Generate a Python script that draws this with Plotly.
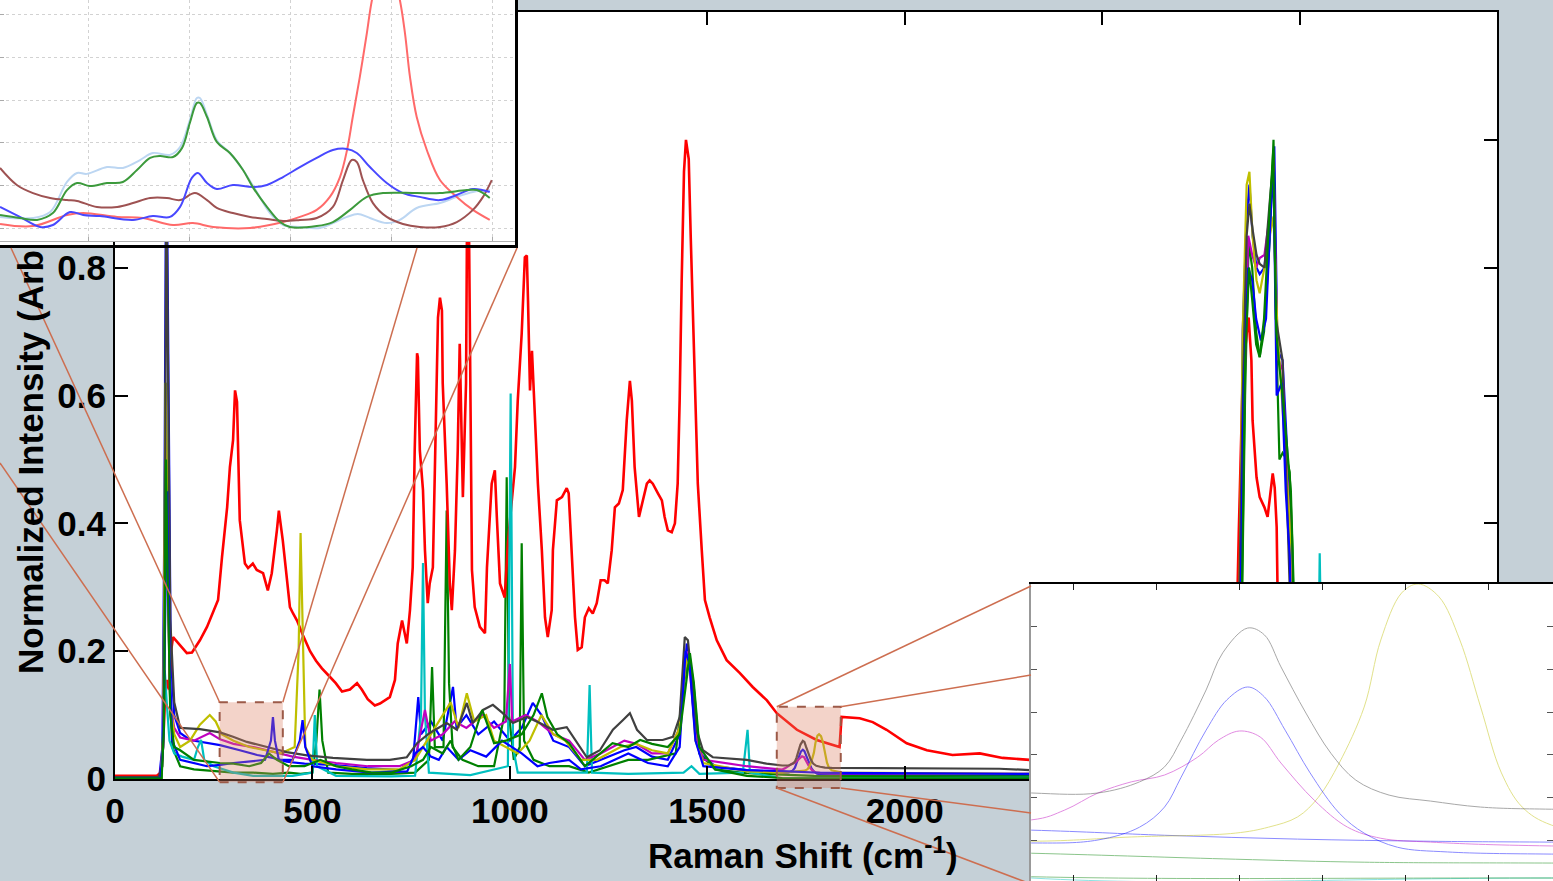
import plotly.graph_objects as go

# ---------------- main spectra (Raman shift cm-1, normalized intensity) ----------------
red = [(0,0.005),(106,0.005),(116,0.01),(122,0.06),(127,0.13),(132,0.155),(137,0.14),(142,0.2),(147,0.222),(170,0.206),(182,0.197),(195,0.198),(215,0.217),(233,0.238),(248,0.259),(261,0.28),(271,0.347),(284,0.425),(291,0.488),(299,0.53),(304,0.608),(309,0.59),(316,0.405),(329,0.337),(337,0.33),(349,0.337),(359,0.327),(375,0.322),(387,0.295),(397,0.322),(410,0.389),(415,0.42),(425,0.373),(435,0.311),(443,0.269),(451,0.259),(461,0.248),(476,0.225),(494,0.2),(509,0.185),(524,0.173),(544,0.16),(559,0.15),(575,0.137),(595,0.14),(613,0.15),(625,0.14),(640,0.125),(658,0.115),(671,0.118),(696,0.128),(709,0.155),(716,0.212),(727,0.248),(739,0.212),(747,0.264),(754,0.331),(759,0.514),(765,0.666),(767,0.66),(772,0.514),(780,0.452),(785,0.358),(792,0.275),(797,0.306),(805,0.331),(810,0.462),(818,0.722),(823,0.753),(828,0.733),(830,0.619),(840,0.462),(848,0.306),(853,0.264),(861,0.358),(868,0.514),(873,0.681),(878,0.514),(881,0.441),(889,0.619),(892,0.92),(896,0.9),(901,0.5),(904,0.327),(911,0.269),(924,0.238),(937,0.228),(942,0.331),(954,0.462),(962,0.483),(967,0.41),(975,0.306),(987,0.284),(995,0.369),(1005,0.436),(1013,0.488),(1020,0.592),(1030,0.697),(1038,0.816),(1043,0.819),(1046,0.748),(1051,0.608),(1056,0.67),(1058,0.644),(1063,0.566),(1071,0.462),(1081,0.358),(1089,0.253),(1096,0.222),(1106,0.264),(1109,0.358),(1119,0.436),(1132,0.441),(1144,0.455),(1149,0.447),(1157,0.358),(1165,0.253),(1172,0.202),(1182,0.206),(1190,0.253),(1200,0.267),(1210,0.259),(1220,0.275),(1230,0.311),(1240,0.311),(1248,0.306),(1258,0.358),(1266,0.425),(1276,0.431),(1286,0.452),(1296,0.561),(1304,0.623),(1309,0.592),(1316,0.488),(1327,0.41),(1337,0.436),(1347,0.462),(1354,0.467),(1362,0.462),(1375,0.447),(1385,0.436),(1392,0.41),(1400,0.389),(1410,0.386),(1418,0.4),(1425,0.462),(1430,0.592),(1435,0.775),(1441,0.95),(1446,1.0),(1453,0.97),(1458,0.85),(1463,0.748),(1468,0.619),(1476,0.462),(1486,0.358),(1494,0.28),(1506,0.253),(1524,0.217),(1549,0.186),(1582,0.166),(1615,0.144),(1651,0.123),(1676,0.103),(1727,0.077),(1777,0.061),(1835,0.05),(1840,0.097),(1886,0.095),(1919,0.089),(1954,0.077),(2005,0.056),(2056,0.045),(2121,0.0375),(2190,0.04),(2248,0.033),(2316,0.03),(2400,0.028),(2600,0.026),(2780,0.03),(2836,0.1),(2846,0.384),(2856,0.628),(2866,0.697),(2871,0.722),(2878,0.655),(2881,0.561),(2891,0.472),(2899,0.441),(2911,0.425),(2919,0.41),(2924,0.436),(2932,0.478),(2937,0.456),(2942,0.394),(2944,0.306),(2949,0.1),(2970,0.03),(3200,0.022),(3500,0.02)]

gray = [(0,0.003),(110,0.003),(120,0.02),(125,0.15),(130,0.95),(135,0.6),(140,0.25),(150,0.12),(165,0.08),(215,0.078),(266,0.073),(299,0.066),(334,0.058),(385,0.05),(435,0.042),(486,0.037),(552,0.033),(638,0.03),(696,0.03),(739,0.034),(765,0.056),(797,0.072),(840,0.0875),(866,0.077),(891,0.119),(906,0.0875),(932,0.108),(957,0.116),(982,0.103),(1008,0.0875),(1043,0.097),(1076,0.0875),(1109,0.077),(1144,0.081),(1170,0.056),(1195,0.034),(1228,0.045),(1261,0.077),(1286,0.092),(1304,0.103),(1322,0.077),(1347,0.061),(1387,0.061),(1413,0.066),(1430,0.097),(1443,0.222),(1451,0.217),(1461,0.15),(1473,0.077),(1489,0.045),(1514,0.034),(1600,0.03),(1650,0.024),(1690,0.0211),(1706,0.0211),(1716,0.0237),(1722,0.0272),(1726,0.0335),(1732,0.0452),(1736,0.0539),(1742,0.0597),(1746,0.0581),(1750,0.0506),(1756,0.0398),(1762,0.0304),(1768,0.0241),(1776,0.0206),(1786,0.0192),(1798,0.0178),(1815,0.0173),(1900,0.017),(2240,0.016),(2316,0.014),(2600,0.014),(2840,0.016),(2848,0.3),(2856,0.6),(2866,0.85),(2873,0.9),(2881,0.86),(2891,0.82),(2899,0.806),(2911,0.8),(2924,0.9),(2934,0.97),(2940,0.72),(2950,0.68),(2957,0.655),(2965,0.5),(2975,0.3),(2985,0.05),(3000,0.015),(3500,0.012)]

blue1 = [(0,0.002),(112,0.002),(120,0.05),(125,0.4),(130,1.05),(136,0.6),(141,0.2),(150,0.1),(165,0.072),(190,0.061),(215,0.058),(266,0.053),(316,0.045),(360,0.0375),(400,0.033),(435,0.027),(480,0.024),(550,0.022),(638,0.017),(720,0.014),(755,0.03),(768,0.128),(775,0.07),(800,0.09),(830,0.06),(856,0.144),(865,0.08),(890,0.1),(920,0.07),(960,0.09),(1000,0.06),(1030,0.08),(1058,0.119),(1080,0.1),(1110,0.06),(1150,0.05),(1190,0.02),(1230,0.03),(1290,0.045),(1320,0.05),(1360,0.035),(1400,0.03),(1430,0.07),(1448,0.212),(1456,0.19),(1466,0.1),(1480,0.04),(1520,0.02),(1600,0.014),(1690,0.0094),(1706,0.0101),(1716,0.0131),(1722,0.0178),(1726,0.0248),(1732,0.0358),(1737,0.0429),(1742,0.0459),(1746,0.0436),(1751,0.0358),(1757,0.0258),(1764,0.0164),(1770,0.0117),(1778,0.0084),(1790,0.0073),(1815,0.0068),(1900,0.007),(2300,0.006),(2840,0.01),(2848,0.2),(2856,0.7),(2866,0.88),(2873,0.93),(2881,0.85),(2891,0.8),(2899,0.79),(2911,0.8),(2924,0.88),(2936,0.99),(2944,0.67),(2957,0.655),(2966,0.54),(2975,0.436),(2980,0.33),(2988,0.05),(3000,0.008),(3500,0.005)]

blue2 = [(0,0.001),(115,0.001),(122,0.05),(128,0.3),(132,0.45),(138,0.2),(145,0.06),(165,0.03),(200,0.025),(233,0.02),(267,0.022),(300,0.025),(350,0.028),(380,0.03),(395,0.06),(400,0.097),(405,0.06),(415,0.03),(450,0.03),(468,0.06),(475,0.092),(482,0.05),(500,0.02),(560,0.015),(650,0.01),(740,0.012),(760,0.04),(780,0.05),(800,0.035),(820,0.03),(840,0.05),(870,0.03),(900,0.045),(940,0.035),(980,0.06),(1030,0.04),(1070,0.02),(1100,0.025),(1150,0.03),(1180,0.015),(1230,0.02),(1300,0.04),(1350,0.025),(1400,0.02),(1430,0.05),(1445,0.2),(1455,0.18),(1470,0.06),(1490,0.02),(1600,0.014),(1690,0.0124),(1722,0.0112),(1754,0.0103),(1786,0.0098),(1815,0.0096),(2300,0.008),(2840,0.01),(2848,0.15),(2858,0.6),(2870,0.8),(2880,0.78),(2890,0.72),(2902,0.686),(2915,0.72),(2928,0.9),(2934,0.95),(2942,0.6),(2955,0.62),(2965,0.45),(2975,0.35),(2985,0.05),(3000,0.006),(3500,0.004)]

green1 = [(0,0.001),(118,0.001),(123,0.1),(128,0.62),(133,0.4),(138,0.15),(145,0.05),(165,0.02),(200,0.015),(266,0.012),(300,0.01),(350,0.01),(400,0.008),(440,0.01),(470,0.008),(500,0.01),(510,0.06),(518,0.14),(525,0.06),(540,0.01),(600,0.008),(700,0.008),(760,0.01),(795,0.03),(803,0.175),(810,0.05),(832,0.05),(840,0.42),(846,0.15),(855,0.05),(880,0.03),(920,0.02),(960,0.02),(986,0.1),(992,0.472),(998,0.1),(1010,0.03),(1025,0.05),(1030,0.369),(1036,0.06),(1060,0.03),(1100,0.02),(1150,0.02),(1200,0.01),(1250,0.02),(1300,0.03),(1350,0.03),(1420,0.04),(1440,0.15),(1455,0.19),(1465,0.15),(1480,0.04),(1520,0.015),(1600,0.009),(1690,0.007),(1739,0.0056),(1770,0.0049),(1815,0.0047),(2300,0.004),(2840,0.006),(2850,0.1),(2862,0.6),(2871,0.84),(2880,0.8),(2890,0.7),(2899,0.66),(2910,0.7),(2925,0.85),(2934,1.0),(2942,0.67),(2949,0.5),(2957,0.51),(2968,0.5),(2975,0.48),(2982,0.36),(2990,0.05),(3005,0.005),(3500,0.003)]

green2 = [(0,0.001),(118,0.001),(124,0.08),(129,0.5),(134,0.3),(140,0.1),(150,0.05),(165,0.045),(200,0.03),(233,0.027),(266,0.025),(300,0.024),(340,0.02),(370,0.025),(390,0.04),(410,0.03),(440,0.02),(480,0.02),(520,0.03),(560,0.02),(600,0.015),(650,0.01),(700,0.01),(750,0.02),(780,0.03),(800,0.05),(830,0.04),(850,0.06),(870,0.03),(900,0.05),(930,0.108),(960,0.056),(990,0.06),(1030,0.07),(1060,0.1),(1081,0.134),(1095,0.097),(1120,0.07),(1150,0.056),(1190,0.02),(1230,0.04),(1260,0.056),(1300,0.05),(1330,0.061),(1360,0.055),(1400,0.05),(1430,0.07),(1456,0.197),(1466,0.15),(1480,0.05),(1520,0.015),(1600,0.005),(1690,0.0015),(1815,0.0012),(2300,0.001),(2840,0.006),(2852,0.2),(2862,0.65),(2872,0.8),(2880,0.75),(2890,0.68),(2899,0.66),(2910,0.72),(2925,0.9),(2933,0.98),(2941,0.7),(2948,0.65),(2957,0.6),(2968,0.52),(2978,0.45),(2985,0.3),(2992,0.05),(3005,0.005),(3500,0.003)]

magenta = [(0,0.002),(116,0.002),(122,0.05),(128,0.5),(134,0.3),(140,0.12),(150,0.08),(165,0.065),(200,0.06),(240,0.072),(266,0.062),(300,0.055),(350,0.05),(400,0.042),(450,0.035),(500,0.03),(560,0.025),(640,0.02),(720,0.02),(760,0.03),(785,0.108),(800,0.06),(830,0.07),(860,0.09),(890,0.08),(930,0.1),(960,0.08),(990,0.09),(1000,0.18),(1006,0.09),(1040,0.1),(1070,0.09),(1110,0.07),(1150,0.06),(1190,0.03),(1230,0.04),(1290,0.06),(1320,0.055),(1360,0.04),(1400,0.04),(1430,0.08),(1447,0.2),(1456,0.17),(1470,0.07),(1490,0.03),(1600,0.02),(1690,0.0148),(1698,0.0171),(1706,0.0211),(1714,0.0237),(1722,0.0253),(1730,0.0295),(1735,0.0335),(1740,0.0356),(1745,0.0342),(1750,0.0281),(1758,0.0194),(1766,0.0131),(1774,0.0105),(1786,0.0096),(1815,0.0087),(2300,0.008),(2840,0.01),(2850,0.2),(2860,0.6),(2870,0.85),(2880,0.82),(2890,0.8),(2899,0.815),(2911,0.82),(2924,0.88),(2934,0.96),(2944,0.66),(2957,0.64),(2966,0.5),(2975,0.4),(2985,0.05),(3000,0.008),(3500,0.006)]

yellow = [(0,0.002),(116,0.002),(122,0.05),(128,0.62),(134,0.35),(140,0.12),(150,0.07),(165,0.05),(190,0.06),(215,0.085),(240,0.1),(255,0.09),(270,0.07),(300,0.06),(340,0.05),(380,0.045),(420,0.04),(455,0.05),(465,0.2),(470,0.385),(476,0.2),(482,0.05),(500,0.03),(560,0.02),(640,0.015),(720,0.015),(760,0.03),(790,0.06),(820,0.09),(850,0.12),(870,0.08),(891,0.134),(910,0.09),(940,0.1),(960,0.06),(990,0.05),(1020,0.04),(1050,0.06),(1080,0.1),(1110,0.07),(1140,0.06),(1180,0.03),(1220,0.03),(1280,0.05),(1320,0.055),(1360,0.045),(1400,0.04),(1430,0.08),(1447,0.19),(1458,0.17),(1470,0.06),(1490,0.025),(1600,0.012),(1690,0.0098),(1714,0.0108),(1739,0.0117),(1747,0.0131),(1754,0.0155),(1759,0.0201),(1764,0.0281),(1770,0.0412),(1774,0.0569),(1779,0.0679),(1783,0.07),(1788,0.067),(1793,0.0569),(1798,0.0412),(1803,0.0258),(1808,0.0178),(1815,0.0136),(1840,0.01),(2300,0.008),(2840,0.01),(2848,0.3),(2856,0.7),(2866,0.93),(2873,0.95),(2881,0.85),(2891,0.78),(2899,0.76),(2911,0.8),(2924,0.85),(2934,0.88),(2944,0.7),(2957,0.58),(2965,0.5),(2975,0.4),(2985,0.05),(3000,0.008),(3500,0.006)]

cyan = [(0,0.001),(115,0.001),(121,0.05),(126,0.17),(131,0.12),(138,0.06),(150,0.04),(170,0.035),(200,0.03),(210,0.05),(218,0.061),(226,0.03),(250,0.02),(300,0.01),(350,0.005),(450,0.005),(500,0.01),(506,0.1),(512,0.02),(560,0.005),(700,0.004),(760,0.005),(775,0.1),(780,0.338),(785,0.1),(795,0.01),(900,0.006),(995,0.02),(1002,0.603),(1008,0.05),(1020,0.01),(1195,0.01),(1202,0.147),(1208,0.01),(1300,0.008),(1440,0.01),(1460,0.02),(1480,0.008),(1590,0.01),(1602,0.077),(1608,0.01),(1690,0.0012),(1815,0.0012),(2300,0.002),(3040,0.003),(3048,0.2),(3051,0.353),(3055,0.2),(3060,0.003),(3500,0.002)]

# ---------------- top-left inset (zoom of a low-shift region) ----------------
ins_red = [(273.6,0.0019),(283.4,0.0009),(293.5,0.0061),(298.3,0.0070),(308.4,0.0052),(316.1,0.0047),(325.0,0.0014),(330.9,0.0023),(336.9,0.0005),(347.9,0.0),(357.7,0.0028),(362.7,0.0052),(367.7,0.0085),(371.6,0.0146),(374.6,0.0239),(376.7,0.0366),(378.4,0.0521),(380.5,0.0709),(382.6,0.0916),(384.1,0.107),(388.2,0.135),(392.4,0.107),(393.9,0.0916),(395.4,0.0709),(397.4,0.0521),(400.4,0.0366),(404.3,0.0225),(409.3,0.0146),(414.1,0.0085),(419.1,0.0038)]
ins_blue = [(273.6,0.0099),(279.5,0.0052),(285.5,0.0005),(289.3,0.0014),(294.4,0.0075),(298.3,0.0061),(303.3,0.0056),(313.1,0.0038),(319.0,0.0056),(324.1,0.0052),(327.1,0.0099),(330.6,0.0235),(332.4,0.0258),(335.1,0.0211),(338.0,0.0183),(342.8,0.0202),(348.7,0.0192),(352.9,0.0202),(357.7,0.0239),(362.7,0.0286),(367.7,0.0329),(372.5,0.0366),(376.7,0.0371),(379.6,0.0352),(383.5,0.0286),(388.5,0.0211),(393.3,0.0164),(398.3,0.0146),(404.3,0.0131),(409.3,0.0155),(414.1,0.0183),(419.1,0.0169)]
ins_green = [(273.6,0.0061),(279.5,0.0047),(284.6,0.0038),(289.3,0.0070),(293.5,0.0178),(296.5,0.0211),(300.3,0.0197),(305.4,0.0211),(310.1,0.0216),(314.3,0.0272),(318.2,0.0329),(321.1,0.0338),(325.0,0.0333),(327.7,0.0376),(330.0,0.0493),(332.1,0.0587),(333.0,0.0587),(335.1,0.0521),(338.0,0.0404),(341.9,0.0352),(345.8,0.0272),(348.7,0.0192),(352.9,0.0099),(356.8,0.0028),(359.7,0.0005),(367.7,0.0009),(372.5,0.0028),(377.6,0.0085),(382.6,0.0146),(387.4,0.0164),(397.4,0.0164),(404.3,0.0164),(412.3,0.0178),(415.3,0.0178),(419.1,0.0141)]
ins_lightblue = [(273.6,0.0052),(283.4,0.0047),(288.5,0.0075),(293.5,0.0216),(296.5,0.0258),(299.4,0.0254),(305.4,0.0286),(310.1,0.0282),(315.2,0.0319),(319.0,0.0352),(324.1,0.0343),(327.1,0.0380),(330.0,0.0507),(332.1,0.0610),(333.0,0.0610),(335.1,0.0531),(338.0,0.0413),(341.9,0.0352),(345.8,0.0272),(349.9,0.0169),(353.8,0.0070),(357.7,0.0014),(362.7,0.0005),(368.6,0.0),(372.5,0.0023),(376.7,0.0052),(379.9,0.0066),(383.5,0.0047),(388.5,0.0023),(392.4,0.0038),(397.4,0.0094),(404.3,0.0117),(409.3,0.0146),(414.1,0.0169),(419.1,0.0178)]
ins_brown = [(273.6,0.0282),(278.6,0.0202),(283.4,0.0164),(288.5,0.0141),(293.5,0.0131),(296.5,0.0127),(302.4,0.0099),(308.4,0.0099),(313.1,0.0117),(318.2,0.0141),(323.2,0.0141),(327.1,0.0131),(331.5,0.0164),(335.1,0.0131),(338.0,0.0094),(342.8,0.0070),(347.9,0.0052),(352.9,0.0042),(357.7,0.0033),(362.7,0.0038),(367.7,0.0047),(372.5,0.0099),(375.5,0.0225),(378.1,0.0319),(379.6,0.0310),(381.4,0.0225),(384.4,0.0117),(388.5,0.0052),(393.3,0.0019),(398.3,0.0005),(404.3,0.0005),(409.3,0.0028),(414.1,0.0085),(417.1,0.0146),(419.7,0.0225)]

# axis settings
X_TICKS = [0, 500, 1000, 1500, 2000, 2500, 3000, 3500]
Y_TICKS = [0, 0.2, 0.4, 0.6, 0.8, 1.0, 1.2]
Y_TEXT = ["0", "0.2", "0.4", "0.6", "0.8", "1", "1.2"]
XR, YR = [0, 3500], [0, 1.2]
XD, YD = [115/1553, 1497/1553], [1-779/881, 1-12/881]
BOX_LEFT = (265, 425, -0.005, 0.12)
BOX_RIGHT = (1676, 1838, -0.014, 0.113)

def unz(p):
    return [a for a, b in p], [b for a, b in p]

def to_px(x, y):
    return (XD[0] + (x-XR[0])/(XR[1]-XR[0])*(XD[1]-XD[0]),
            YD[0] + (y-YR[0])/(YR[1]-YR[0])*(YD[1]-YD[0]))

C = dict(b="#0000ff", g="#008000", r="#ff0000", c="#00bfbf", m="#bf00bf", y="#bfbf00", k="#404040")

fig = go.Figure()
main_series = [(blue1, C["b"], 2.2), (green1, C["g"], 2.2), (red, C["r"], 2.6), (cyan, C["c"], 2.2),
               (magenta, C["m"], 2.2), (yellow, C["y"], 2.2), (gray, C["k"], 2.2), (blue2, C["b"], 2.2),
               (green2, C["g"], 2.2)]
for data, col, w in main_series:
    x, y = unz(data)
    fig.add_trace(go.Scatter(x=x, y=y, mode="lines", line=dict(color=col, width=w),
                             xaxis="x", yaxis="y", hoverinfo="skip"))

# top-left inset
for data, col in [(ins_lightblue, "#bcd6f2"), (ins_red, "#ff6a6a"), (ins_brown, "#9e5252"),
                  (ins_blue, "#4848ff"), (ins_green, "#3c9a3c")]:
    x, y = unz(data)
    fig.add_trace(go.Scatter(x=x, y=y, mode="lines", line=dict(color=col, width=2, shape="spline"),
                             xaxis="x2", yaxis="y2", hoverinfo="skip"))

# bottom-right inset (zoom of 1690-1815 cm-1)
for data, col in [(cyan, C["c"]), (green2, C["g"]), (green1, C["g"]), (blue2, C["b"]),
                  (yellow, C["y"]), (magenta, C["m"]), (blue1, C["b"]), (gray, C["k"])]:
    x, y = unz(data)
    fig.add_trace(go.Scatter(x=x, y=y, mode="lines", line=dict(color=col, width=1, shape="spline"),
                             opacity=0.45, xaxis="x3", yaxis="y3", hoverinfo="skip"))

FONT = dict(family="Liberation Sans, Arial, sans-serif", size=35, color="black", weight="bold")

shapes = []
# white backing + black frame of top-left inset
shapes.append(dict(type="rect", xref="paper", yref="paper", x0=0, x1=517/1553, y0=1-248/881, y1=1,
                   fillcolor="white", line=dict(width=0), layer="below"))
shapes.append(dict(type="rect", xref="paper", yref="paper", x0=-0.01, x1=516.5/1553, y0=1-246.5/881, y1=1.01,
                   line=dict(color="black", width=3), layer="above"))
# zoom boxes
LINE_C = "#cd6e50"
for (bx0, bx1, by0, by1) in [BOX_LEFT, BOX_RIGHT]:
    p0 = to_px(bx0, by0); p1 = to_px(bx1, by1)
    shapes.append(dict(type="rect", xref="paper", yref="paper", x0=p0[0], x1=p1[0], y0=p0[1], y1=p1[1],
                       fillcolor="rgba(220,128,100,0.35)", line=dict(color="#9c5a48", width=2, dash="dash"),
                       layer="above"))
# connector lines: (box corner in data units) -> (point on inset edge / page edge, paper units)
connectors = [
    ((BOX_LEFT[0], BOX_LEFT[3]), (11/1553, 1-248/881)),
    ((BOX_LEFT[0], BOX_LEFT[2]), (0.0, 1-463/881)),
    ((BOX_LEFT[1], BOX_LEFT[3]), (417/1553, 1-248/881)),
    ((BOX_LEFT[1], BOX_LEFT[2]), (517/1553, 1-248/881)),
    ((BOX_RIGHT[0], BOX_RIGHT[3]), (1031/1553, 1-586/881)),
    ((BOX_RIGHT[1], BOX_RIGHT[3]), (1031/1553, 1-675/881)),
    ((BOX_RIGHT[1], BOX_RIGHT[2]), (1031/1553, 1-813/881)),
    ((BOX_RIGHT[0], BOX_RIGHT[2]), (1031/1553, 1-884/881)),
]
for (cx, cy), (tx, ty) in connectors:
    px, py = to_px(cx, cy)
    shapes.append(dict(type="line", xref="paper", yref="paper", x0=px, y0=py, x1=tx, y1=ty,
                       line=dict(color=LINE_C, width=1.5), layer="above"))

fig.update_layout(
    width=1553, height=881, autosize=False, margin=dict(l=0, r=0, t=0, b=0, pad=0),
    paper_bgcolor="#c5d0d7", plot_bgcolor="white", showlegend=False,
    xaxis=dict(domain=XD, range=XR, tickvals=X_TICKS, ticks="inside", ticklen=13, tickwidth=2,
               tickcolor="black", showline=True, linewidth=2, linecolor="black", mirror="ticks",
               showgrid=False, zeroline=False, tickfont=FONT, anchor="y", automargin=False),
    yaxis=dict(domain=YD, range=YR, tickvals=Y_TICKS, ticktext=Y_TEXT, ticks="inside", ticklen=13,
               tickwidth=2, tickcolor="black", showline=True, linewidth=2, linecolor="black",
               mirror="ticks", showgrid=False, zeroline=False, tickfont=FONT, anchor="x", automargin=False),
    xaxis2=dict(domain=[0, 515/1553], range=[273.6, 426.6], tickvals=[300, 330, 360, 390, 420],
                ticks="inside", ticklen=4, tickcolor="#aaaaaa", showticklabels=False,
                showgrid=True, gridcolor="#d2d2d2", griddash="dot", gridwidth=1,
                showline=True, linecolor="#b0b0b0", linewidth=1, mirror=True, zeroline=False,
                anchor="y2", automargin=False),
    yaxis2=dict(domain=[1-241/881, 1], range=[-0.0061, 0.107], tickvals=[0, 0.02, 0.04, 0.06, 0.08, 0.1],
                ticks="inside", ticklen=4, tickcolor="#aaaaaa", showticklabels=False,
                showgrid=True, gridcolor="#d2d2d2", griddash="dot", gridwidth=1,
                showline=True, linecolor="#b0b0b0", linewidth=1, mirror=True, zeroline=False,
                anchor="x2", automargin=False),
    xaxis3=dict(domain=[1031/1553, 1], range=[1689.9, 1815.4], tickvals=[1700, 1720, 1740, 1760, 1780, 1800],
                ticks="inside", ticklen=6, tickcolor="#222222", showticklabels=False, showgrid=False,
                showline=True, linecolor="black", linewidth=2, mirror="ticks", zeroline=False,
                anchor="y3", automargin=False),
    yaxis3=dict(domain=[0, 1-584/881], range=[0.0005, 0.0700], tickvals=[0.01, 0.02, 0.03, 0.04, 0.05, 0.06],
                ticks="inside", ticklen=6, tickcolor="#555555", showticklabels=False, showgrid=False,
                showline=True, linecolor="#999999", linewidth=1.5, mirror="ticks", zeroline=False,
                anchor="x3", automargin=False),
    shapes=shapes,
    annotations=[
        dict(text="Raman Shift (cm<sup>-1</sup>)", x=803/1553, y=1-853/881, xref="paper", yref="paper",
             xanchor="center", yanchor="middle", showarrow=False, font=FONT),
        dict(text="Normalized Intensity (Arb", x=30/1553, y=1-462/881, xref="paper", yref="paper",
             xanchor="center", yanchor="middle", textangle=-90, showarrow=False, font=FONT),
    ],
)
fig.write_html("out.html")
